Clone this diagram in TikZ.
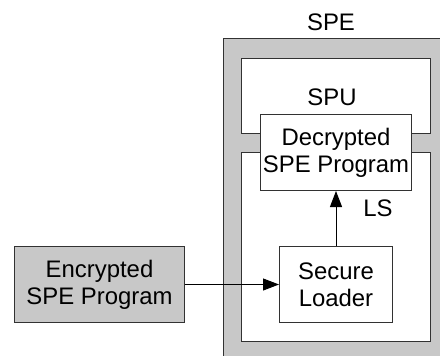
\documentclass[tikz,border=0pt]{standalone}
\usepackage{fontspec}
\setmainfont{Liberation Sans}
\usetikzlibrary{arrows.meta}
\definecolor{panelgray}{RGB}{200,200,200}
\definecolor{edge}{RGB}{50,50,50}
\tikzset{
  blk/.style={draw=edge, line width=1pt, rectangle, inner sep=0pt, anchor=north west},
  lbl/.style={font=\fontsize{23.9}{27}\selectfont, align=center, inner sep=0pt},
  flow/.style={draw=black, line width=1pt, -{Triangle[length=16pt,width=12pt]}},
}
\begin{document}
\begin{tikzpicture}[x=1pt,y=-1pt]
\useasboundingbox (0,0) rectangle (440,356);
\begin{scope}
\clip (0,0) rectangle (440,356);
% SPE panel with its two inner regions
\node[blk, fill=panelgray, minimum width=240pt, minimum height=340pt] (spe) at (223,38) {};
\node[blk, fill=white, minimum width=189pt, minimum height=75pt] (spu) at (241,58) {};
\node[blk, fill=white, minimum width=189pt, minimum height=189pt] (ls) at (241,152) {};
\end{scope}
% program and loader boxes
\node[blk, fill=white, minimum width=151pt, minimum height=76pt] (dec) at (260,114) {};
\node[lbl] at (dec.center) {Decrypted\\SPE Program};
\node[blk, fill=white, minimum width=113pt, minimum height=76pt] (ldr) at (279,246) {};
\node[lbl] at (ldr.center) {Secure\\Loader};
\node[blk, fill=panelgray, minimum width=170pt, minimum height=76pt] (enc) at (14,246) {};
\node[lbl] at (enc.center) {Encrypted\\SPE Program};
% region labels
\node[lbl] (spelbl) at (331,22) {SPE};
\node[lbl] (spulbl) at (332,97) {SPU};
\node[lbl] (lslbl) at (378,208) {LS};
% data flow
\draw[flow] (enc.east) -- (ldr.west);
\draw[flow] (ldr.north) -- (dec.south);
\end{tikzpicture}
\end{document}
